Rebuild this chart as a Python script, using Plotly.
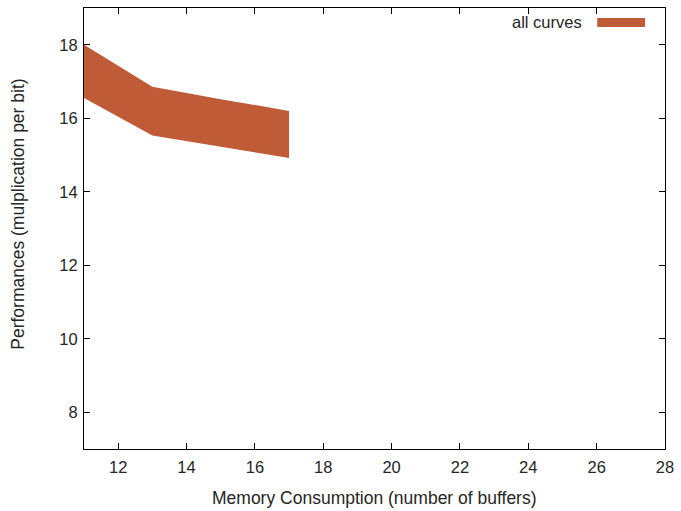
import plotly.graph_objects as go

# Buffer counts and the performance band (upper / lower bounds)
buffers = [11, 13, 15, 17]
perf_upper = [18.0, 16.86, 16.52, 16.20]
perf_lower = [16.55, 15.53, 15.22, 14.92]

x_ticks = [12, 14, 16, 18, 20, 22, 24, 26, 28]
y_ticks = [8, 10, 12, 14, 16, 18]

band_color = "#bf5b37"
text_color = "#262626"
font_family = "Liberation Sans, Arial, sans-serif"
fsize = 16.5
title_size = 17.5

fig = go.Figure()
fig.add_trace(go.Scatter(
    x=buffers + buffers[::-1],
    y=perf_upper + perf_lower[::-1],
    fill="toself",
    fillcolor=band_color,
    line=dict(width=0, color=band_color),
    mode="lines",
    name="all curves",
    showlegend=False,
    hoverinfo="skip",
))

# Plot-area box in pixels, used to place the legend and titles in paper units
L, R, T, B = 84, 667, 7, 449
W, H = R - L, B - T
def px(xp):
    return (xp - L) / W
def py(yp):
    return 1 - (yp - T) / H

# Legend entry drawn as a wide swatch beside its label
fig.add_shape(type="rect", xref="paper", yref="paper",
              x0=px(599), x1=px(647), y0=py(26), y1=py(17),
              fillcolor=band_color, line=dict(width=0))
fig.add_annotation(text="all curves", xref="paper", yref="paper",
                   x=px(586), y=py(21.5), xanchor="right", yanchor="middle",
                   showarrow=False, font=dict(size=fsize, color=text_color, family=font_family))

# Axis titles
fig.add_annotation(text="Memory Consumption (number of buffers)", xref="paper", yref="paper",
                   x=px(375), y=py(498), xanchor="center", yanchor="middle",
                   showarrow=False, font=dict(size=title_size, color=text_color, family=font_family))
fig.add_annotation(text="Performances (mulplication per bit)", xref="paper", yref="paper",
                   x=px(17), y=py(214), xanchor="center", yanchor="middle", textangle=-90,
                   showarrow=False, font=dict(size=title_size, color=text_color, family=font_family))

axis_common = dict(
    showgrid=False, zeroline=False, showline=True, linecolor="black", linewidth=1,
    mirror="ticks", ticks="inside", ticklen=6, tickcolor="black",
    tickfont=dict(size=fsize, color=text_color, family=font_family),
)

fig.update_xaxes(range=[11, 28], tickvals=x_ticks, ticktext=[str(v) for v in x_ticks],
                 ticklabelstandoff=3, **axis_common)
fig.update_yaxes(range=[7, 19], tickvals=y_ticks, ticktext=[str(v) for v in y_ticks],
                 ticklabelstandoff=2, **axis_common)

fig.update_layout(
    width=681, height=511,
    margin=dict(l=L, r=681 - R, t=T, b=511 - B),
    plot_bgcolor="white", paper_bgcolor="white",
    showlegend=False,
)

fig.write_html("out.html")
